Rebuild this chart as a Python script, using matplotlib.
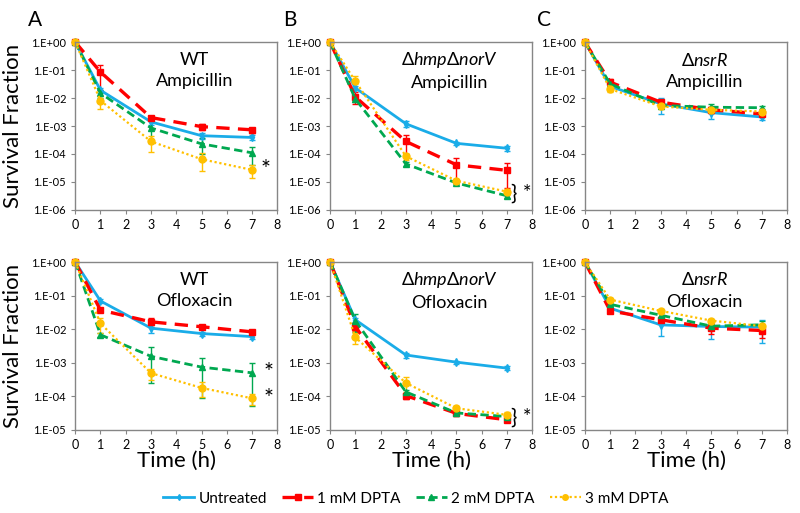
import numpy as np
import matplotlib
matplotlib.use("Agg")
import matplotlib.pyplot as plt
from matplotlib.lines import Line2D

plt.rcParams['font.family'] = ['Lato', 'DejaVu Sans']
plt.rcParams['mathtext.fontset'] = 'custom'
plt.rcParams['mathtext.it'] = 'Lato:italic'
plt.rcParams['mathtext.rm'] = 'Lato'

time = [0, 1, 3, 5, 7]
series_names = ['Untreated', '1 mM DPTA', '2 mM DPTA', '3 mM DPTA']

# rows: untreated, 1 mM, 2 mM, 3 mM
wt_amp = [[1, 1.9e-2, 1.4e-3, 4.5e-4, 3.9e-4],
          [1, 8.5e-2, 2.0e-3, 9.5e-4, 7.3e-4],
          [1, 1.5e-2, 8.5e-4, 2.3e-4, 1.1e-4],
          [1, 8.1e-3, 2.8e-4, 6.5e-5, 2.7e-5]]
wt_amp_err = [[0, 4e-3, 3e-4, 1e-4, 8e-5],
              [0, 6.5e-2, 3e-4, 2e-4, 1.5e-4],
              [0, 5e-3, 6e-4, 1.3e-4, 7e-5],
              [0, 4e-3, 1.6e-4, 4e-5, 1.3e-5]]

hn_amp = [[1, 2.3e-2, 1.2e-3, 2.4e-4, 1.6e-4],
          [1, 1.1e-2, 2.8e-4, 4.1e-5, 2.6e-5],
          [1, 9.3e-3, 4.4e-5, 9.2e-6, 3.2e-6],
          [1, 4.0e-2, 8.3e-5, 1.1e-5, 4.5e-6]]
hn_amp_err = [[0, 4e-3, 3e-4, 3e-5, 3e-5],
              [0, 5e-3, 1.8e-4, 3e-5, 2e-5],
              [0, 2e-3, 8e-6, 1e-6, 5e-7],
              [0, 2e-2, 2e-5, 2e-6, 1e-6]]

ns_amp = [[1, 2.6e-2, 6.2e-3, 3.0e-3, 2.1e-3],
          [1, 3.7e-2, 7.1e-3, 3.8e-3, 2.7e-3],
          [1, 3.2e-2, 5.4e-3, 4.7e-3, 4.5e-3],
          [1, 2.1e-2, 5.0e-3, 3.8e-3, 3.3e-3]]
ns_amp_err = [[0, 4e-3, 3.5e-3, 1.2e-3, 4e-4],
              [0, 1e-2, 1e-3, 8e-4, 5e-4],
              [0, 5e-3, 1e-3, 1.5e-3, 5e-4],
              [0, 5e-3, 1e-3, 8e-4, 5e-4]]

wt_ofx = [[1, 6.9e-2, 1.07e-2, 7.4e-3, 6.0e-3],
          [1, 3.7e-2, 1.65e-2, 1.18e-2, 8.3e-3],
          [1, 6.8e-3, 1.55e-3, 7.4e-4, 5.0e-4],
          [1, 1.48e-2, 4.9e-4, 1.78e-4, 8.7e-5]]
wt_ofx_err = [[0, 1e-2, 3e-3, 1e-3, 8e-4],
              [0, 5e-3, 5e-3, 1e-3, 8e-4],
              [0, 1e-3, 1.3e-3, 6.5e-4, 4.5e-4],
              [0, 7e-3, 1.8e-4, 8e-5, 3e-5]]

hn_ofx = [[1, 1.9e-2, 1.7e-3, 1.04e-3, 6.9e-4],
          [1, 1.18e-2, 1.05e-4, 3.1e-5, 2.0e-5],
          [1, 1.8e-2, 1.35e-4, 3.2e-5, 2.5e-5],
          [1, 5.7e-3, 2.5e-4, 4.4e-5, 2.8e-5]]
hn_ofx_err = [[0, 3e-3, 3e-4, 1e-4, 1e-4],
              [0, 3e-3, 2e-5, 5e-6, 3e-6],
              [0, 1e-2, 2e-5, 5e-6, 4e-6],
              [0, 2e-3, 1.2e-4, 6e-6, 5e-6]]

ns_ofx = [[1, 4.2e-2, 1.34e-2, 1.2e-2, 1.15e-2],
          [1, 3.5e-2, 1.9e-2, 1.07e-2, 9.1e-3],
          [1, 5.5e-2, 2.6e-2, 1.23e-2, 1.35e-2],
          [1, 7.6e-2, 3.5e-2, 1.8e-2, 1.23e-2]]
ns_ofx_err = [[0, 4e-3, 7e-3, 7e-3, 7.5e-3],
              [0, 4e-3, 4e-3, 3.5e-3, 3.7e-3],
              [0, 6e-3, 4e-3, 2e-3, 4e-3],
              [0, 8e-3, 4e-3, 2e-3, 2e-3]]

colors = ['#1AACE8', '#FF0000', '#00A850', '#FFC000']
styles = [dict(ls='-', lw=2.0, marker='d', ms=4),
          dict(ls=(0, (4, 2.5)), lw=2.4, marker='s', ms=5),
          dict(ls=(0, (3, 1.6)), lw=2.0, marker='^', ms=5),
          dict(ls=(0, (1, 1.2)), lw=1.6, marker='o', ms=5)]

fig, axes = plt.subplots(2, 3, figsize=(8, 5.13), dpi=100)
fig.subplots_adjust(left=0.094, right=0.984, top=0.918, bottom=0.162,
                    wspace=0.26, hspace=0.31)

panels = [(wt_amp, wt_amp_err, 'WT\nAmpicillin'),
          (hn_amp, hn_amp_err, '$\\Delta\\mathit{hmp}\\Delta\\mathit{norV}$\nAmpicillin'),
          (ns_amp, ns_amp_err, '$\\Delta\\mathit{nsrR}$\nAmpicillin'),
          (wt_ofx, wt_ofx_err, 'WT\nOfloxacin'),
          (hn_ofx, hn_ofx_err, '$\\Delta\\mathit{hmp}\\Delta\\mathit{norV}$\nOfloxacin'),
          (ns_ofx, ns_ofx_err, '$\\Delta\\mathit{nsrR}$\nOfloxacin')]

def fmt_sci(v, pos):
    return "1.E{:+03d}".format(int(round(np.log10(v))))

for i, (ax, (vals, errs, title)) in enumerate(zip(axes.flat, panels)):
    for j in range(4):
        ax.errorbar(time, vals[j], yerr=errs[j], color=colors[j],
                    mfc=colors[j], mec=colors[j], capsize=2.5, elinewidth=1,
                    capthick=1, clip_on=False, **styles[j])
    ax.set_yscale('log')
    if i < 3:
        ax.set_ylim(1e-6, 1)
        ax.set_yticks([10.0 ** k for k in range(-6, 1)])
    else:
        ax.set_ylim(1e-5, 1)
        ax.set_yticks([10.0 ** k for k in range(-5, 1)])
    ax.yaxis.set_major_formatter(plt.FuncFormatter(fmt_sci))
    ax.minorticks_off()
    ax.set_xlim(0, 8)
    ax.set_xticks(range(9))
    ax.tick_params(labelsize=8, color='#868686', length=3, width=0.8)
    ax.tick_params(axis='x', labelsize=9)
    for sp in ax.spines.values():
        sp.set_color('#868686')
        sp.set_linewidth(1.0)
    ax.text(0.59, 0.83, title, transform=ax.transAxes, ha='center',
            va='center', fontsize=13, linespacing=1.4)

axes[0, 0].set_ylabel('Survival Fraction', fontsize=16, labelpad=6)
axes[1, 0].set_ylabel('Survival Fraction', fontsize=16, labelpad=6)
for ax in axes[1]:
    ax.set_xlabel('Time (h)', fontsize=16, labelpad=0)

for ax, letter in zip(axes[0], ['A', 'B', 'C']):
    ax.text(-0.2, 1.13, letter, transform=ax.transAxes, fontsize=15,
            ha='center', va='center')

# significance marks
axes[0, 0].text(7.35, 2.7e-5, '*', fontsize=17, ha='left', va='center')
axes[1, 0].text(7.45, 5e-4, '*', fontsize=17, ha='left', va='center')
axes[1, 0].text(7.45, 8.7e-5, '*', fontsize=17, ha='left', va='center')
axes[0, 1].text(7.15, 3.9e-6, '} *', fontsize=15, ha='left', va='center')
axes[1, 1].text(7.15, 2.3e-5, '} *', fontsize=15, ha='left', va='center')

handles = [Line2D([], [], color=colors[j], mfc=colors[j], mec=colors[j],
                  **dict(styles[j], ms=styles[j]['ms'] - 1))
           for j in range(4)]
fig.legend(handles, series_names, loc='center', bbox_to_anchor=(0.52, 0.028),
           ncol=4, frameon=False, fontsize=11, handlelength=2.0,
           columnspacing=1.0, handletextpad=0.3)

fig.savefig('out.png', dpi=100)
